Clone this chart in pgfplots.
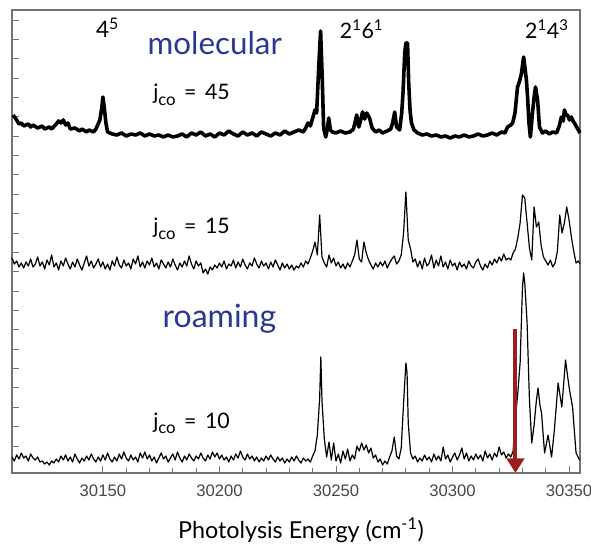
\documentclass[border=0pt]{standalone}
\usepackage{pgfplots}
\pgfplotsset{compat=1.18}
\usetikzlibrary{arrows.meta}
\usepackage{fontspec}
\setmainfont{Lato}
\newfontfamily\tickfont{Liberation Sans}
\definecolor{lblblue}{RGB}{40,56,148}
\definecolor{arrowred}{RGB}{160,28,28}
\definecolor{framegray}{RGB}{115,115,115}
\newcommand{\jco}[1]{j\raisebox{-0.55ex}{\fontsize{12.5}{13}\selectfont co}\hspace{0.4em}=\hspace{0.4em}#1}

\begin{document}
\begin{tikzpicture}
\begin{axis}[name=ax, scale only axis, width=426pt, height=347.25pt,
  xmin=30111, xmax=30354.7, ymin=0, ymax=463,
  scaled x ticks=false,
  xtick={30150,30200,30250,30300,30350},
  xticklabels={30150,30200,30250,30300,30350},
  minor x tick num=4,
  ytick={27,46.36,...,455}, yticklabels={},
  xtick pos=bottom, ytick pos=left, tick align=inside,
  major tick length=5pt, minor tick length=4pt,
  axis line style={framegray, line width=0.8pt},
  tick style={framegray, line width=0.7pt},
  xticklabel style={font=\tickfont\fontsize{12.5}{14}\selectfont, text=black!72, yshift=-5pt},
  clip=false]

% j_CO = 45 (molecular)
\addplot[black, line width=2.7pt, line join=round] coordinates {
(30111.5,358)(30113,353)(30114,349)(30115,350)(30116,347)(30118,349)(30119,346)(30120,348)
(30122,345)(30124,347)(30125,344)(30127,346)(30128,344)(30130,349)(30131,352)(30132,350)
(30133,353)(30134,348)(30135,350)(30136,344)(30138,345)(30140,342)(30141,344)(30143,341)
(30144,343)(30146,341)(30147,344)(30148.7,353)(30149.5,365)(30150,376)(30150.6,365)(30151.3,350)
(30152,341)(30154,339)(30156,338)(30158,340)(30160,337)(30162,339)(30164,338)(30166,340)
(30168,337)(30170,339)(30172,337)(30174,338)(30176,336)(30178,338)(30180,336)(30182,337)
(30184,339)(30186,336)(30188,340)(30190,338)(30192,341)(30194,337)(30196,339)(30198,336)
(30200,340)(30202,338)(30204,342)(30206,339)(30208,337)(30210,341)(30212,338)(30214,340)
(30216,337)(30218,341)(30220,339)(30222,337)(30224,340)(30226,338)(30228,342)(30230,339)
(30232,341)(30234,343)(30236,341)(30237,345)(30238,350)(30239,347)(30240,355)(30241,363)
(30241.7,360)(30242.6,406)(30243.4,442)(30244.1,395)(30244.7,345)(30245.6,336)(30246.3,344)(30246.9,355)
(30247.6,343)(30248.5,341)(30250,340)(30252,342)(30254,340)(30256,341)(30257.5,344)(30258.9,358)
(30259.8,346)(30260.5,352)(30261.4,361)(30262.3,354)(30263.2,360)(30264.4,355)(30265.5,345)(30267,341)
(30268.5,343)(30270,340)(30272,342)(30273.5,344)(30274.3,350)(30275.2,361)(30276,346)(30277.3,343)
(30278.2,360)(30278.8,382)(30279.5,420)(30280,430)(30280.7,430)(30281.2,390)(30281.8,362)(30282.4,350)
(30283.5,343)(30285,340)(30287,338)(30289,339)(30291,337)(30293,338)(30295,336)(30297,337)
(30299,335)(30301,337)(30303,336)(30305,338)(30307,336)(30309,337)(30311,339)(30313,337)
(30315,338)(30317,340)(30319,338)(30321,341)(30322.5,340)(30323.6,346)(30325,348)(30325.8,350)
(30326.8,360)(30327.9,386)(30328.8,392)(30329.6,400)(30330.5,416)(30331.1,405)(30331.7,393)(30332.2,376)
(30332.8,350)(30333.4,336)(30334.3,360)(30335,376)(30335.6,386)(30336.5,373)(30337.3,346)(30338.6,340)
(30340,342)(30341.5,339)(30343,341)(30344.6,340)(30345.8,347)(30346.7,356)(30347.5,352)(30348,363)
(30348.7,358)(30349.3,358)(30350.2,353)(30351,356)(30351.7,352)(30352.3,350)(30353.5,345)(30354.7,340)
};

% j_CO = 15
\addplot[black, line width=0.9pt, line join=round] coordinates {
(30111,215)(30112,209)(30113,212)(30114,206)(30115,210)(30116,205)(30117,211)(30118,207)(30119,214)(30120,206)
(30121,209)(30122,216)(30123,207)(30124,211)(30125,204)(30126,213)(30127,208)(30128,218)(30129,206)(30130,210)
(30131,203)(30132,212)(30133,207)(30134,215)(30135,209)(30136,204)(30137,211)(30138,206)(30139,214)(30140,208)
(30141,203)(30142,210)(30143,217)(30144,207)(30145,212)(30146,205)(30147,209)(30148,214)(30149,206)(30150,211)
(30151,204)(30152,209)(30153,203)(30154,212)(30155,207)(30156,216)(30157,208)(30158,205)(30159,213)(30160,207)
(30161,210)(30162,204)(30163,214)(30164,209)(30165,217)(30166,206)(30167,211)(30168,205)(30169,212)(30170,208)
(30171,215)(30172,206)(30173,210)(30174,204)(30175,213)(30176,209)(30177,205)(30178,211)(30179,206)(30180,214)
(30181,208)(30182,203)(30183,210)(30184,206)(30185,212)(30186,207)(30187,217)(30188,209)(30189,204)(30190,212)
(30191,207)(30192,210)(30193,200)(30194,204)(30195,199)(30196,206)(30197,203)(30198,208)(30199,205)(30200,210)
(30201,206)(30202,212)(30203,204)(30204,209)(30205,207)(30206,213)(30207,205)(30208,211)(30209,206)(30210,214)
(30211,208)(30212,204)(30213,210)(30214,207)(30215,215)(30216,209)(30217,205)(30218,212)(30219,207)(30220,210)
(30221,204)(30222,211)(30223,206)(30224,213)(30225,208)(30226,203)(30227,210)(30228,205)(30229,209)(30230,204)
(30231,208)(30232,203)(30233,207)(30234,205)(30235,210)(30236,206)(30237,212)(30238,209)(30239,215)(30240,222)
(30241,231)(30242,218)(30243,258)(30244,216)(30245,210)(30246,206)(30247,218)(30248,210)(30249,215)(30250,207)
(30251,211)(30252,205)(30253,209)(30254,204)(30255,210)(30256,206)(30257,212)(30258,218)(30259,233)(30260,214)
(30261,211)(30262,231)(30263,220)(30264,213)(30265,208)(30266,204)(30267,210)(30268,206)(30269,211)(30270,207)
(30271,212)(30272,205)(30273,210)(30274,214)(30275,217)(30276,209)(30277,212)(30278,218)(30279,240)(30280,281)
(30281,233)(30282,224)(30283,211)(30284,214)(30285,206)(30286,212)(30287,204)(30288,215)(30289,207)(30290,210)
(30291,218)(30292,205)(30293,213)(30294,207)(30295,217)(30296,206)(30297,211)(30298,204)(30299,213)(30300,207)
(30301,210)(30302,203)(30303,211)(30304,206)(30305,209)(30306,204)(30307,212)(30308,207)(30309,205)(30310,211)
(30311,214)(30312,207)(30313,203)(30314,209)(30315,205)(30316,212)(30317,208)(30318,214)(30319,210)(30320,216)
(30321,212)(30322,219)(30323,213)(30324,215)(30325,213)(30326,220)(30327,224)(30328,235)(30329,250)(30330,278)
(30331,275)(30332,250)(30333,225)(30334,213)(30335,266)(30336,246)(30337,251)(30338,228)(30339,216)(30340,212)
(30341,208)(30342,213)(30343,206)(30344,210)(30345,222)(30346,258)(30347,240)(30348,250)(30349,266)(30350,253)
(30351,236)(30352,222)(30353,210)(30354,212)(30354.7,209)
};

% j_CO = 10 (roaming)
\addplot[black, line width=0.9pt, line join=round] coordinates {
(30111,16)(30112,12)(30113,18)(30114,14)(30115,20)(30116,15)(30117,17)(30118,12)(30119,19)(30120,15)
(30121,13)(30122,16)(30123,11)(30124,12)(30125,9)(30126,11)(30127,8)(30128,12)(30129,10)(30130,14)
(30131,11)(30132,17)(30133,13)(30134,18)(30135,12)(30136,16)(30137,11)(30138,19)(30139,14)(30140,10)
(30141,15)(30142,12)(30143,17)(30144,13)(30145,19)(30146,14)(30147,11)(30148,16)(30149,12)(30150,18)
(30151,13)(30152,20)(30153,14)(30154,11)(30155,16)(30156,12)(30157,19)(30158,14)(30159,21)(30160,15)
(30161,12)(30162,18)(30163,13)(30164,16)(30165,11)(30166,20)(30167,15)(30168,21)(30169,14)(30170,18)
(30171,12)(30172,16)(30173,10)(30174,15)(30175,20)(30176,14)(30177,17)(30178,11)(30179,15)(30180,19)
(30181,13)(30182,21)(30183,15)(30184,11)(30185,17)(30186,13)(30187,19)(30188,15)(30189,12)(30190,17)
(30191,14)(30192,20)(30193,15)(30194,12)(30195,18)(30196,14)(30197,21)(30198,16)(30199,20)(30200,14)
(30201,18)(30202,13)(30203,16)(30204,11)(30205,17)(30206,13)(30207,19)(30208,15)(30209,22)(30210,16)
(30211,13)(30212,19)(30213,14)(30214,17)(30215,12)(30216,16)(30217,11)(30218,15)(30219,12)(30220,17)
(30221,13)(30222,18)(30223,14)(30224,11)(30225,16)(30226,12)(30227,15)(30228,10)(30229,14)(30230,11)
(30231,16)(30232,12)(30233,17)(30234,13)(30235,10)(30236,15)(30237,12)(30238,14)(30239,11)(30240,17)
(30241,22)(30242,38)(30243,75)(30243.5,116)(30244,72)(30245,34)(30246,16)(30247,31)(30248,13)(30249,30)
(30250,12)(30251,19)(30252,10)(30253,22)(30254,14)(30255,24)(30256,12)(30257,18)(30258,14)(30259,27)
(30260,22)(30261,30)(30262,23)(30263,28)(30264,20)(30265,25)(30266,15)(30267,18)(30268,11)(30269,14)
(30270,8)(30271,12)(30272,9)(30273,16)(30274,22)(30275,36)(30276,17)(30277,14)(30278,25)(30279,70)
(30280,110)(30280.5,100)(30281,50)(30282,20)(30283,14)(30284,17)(30285,11)(30286,15)(30287,12)(30288,18)
(30289,13)(30290,16)(30291,11)(30292,19)(30293,13)(30294,17)(30295,12)(30296,26)(30297,14)(30298,18)
(30299,11)(30300,16)(30301,20)(30302,13)(30303,18)(30304,25)(30305,14)(30306,20)(30307,12)(30308,17)
(30309,13)(30310,19)(30311,14)(30312,18)(30313,12)(30314,22)(30315,15)(30316,19)(30317,13)(30318,20)
(30319,16)(30320,26)(30321,18)(30322,21)(30323,15)(30324,19)(30325,16)(30326,22)(30327,55)(30328,80)
(30329,110)(30330,185)(30330.5,200)(30331,190)(30332,150)(30333,73)(30334,30)(30335,48)(30336,73)(30336.7,85)
(30337.5,68)(30338.2,60)(30339,35)(30339.5,20)(30341,38)(30342.5,16)(30343.7,43)(30345.3,90)(30346.9,66)(30348.5,113)
(30349.3,98)(30350.2,83)(30351.5,66)(30353,20)(30354.5,13)
};

% labels
\node[anchor=base, font=\fontsize{17}{19}\selectfont] at (axis cs:30152,435) {4\textsuperscript{5}};
\node[anchor=base, font=\fontsize{16}{18}\selectfont] at (axis cs:30261,434) {2\textsuperscript{1}6\textsuperscript{1}};
\node[anchor=base, font=\fontsize{16}{18}\selectfont] at (axis cs:30340.5,434) {2\textsuperscript{1}4\textsuperscript{3}};
\node[anchor=base, font=\fontsize{23.5}{26}\selectfont, text=lblblue] at (axis cs:30198,418) {molecular};
\node[anchor=base, font=\fontsize{24}{26}\selectfont, text=lblblue] at (axis cs:30200,145) {roaming};
\node[anchor=base west, inner sep=0pt, font=\fontsize{16}{18}\selectfont] at (axis cs:30171.5,373) {\jco{45}};
\node[anchor=base west, inner sep=0pt, font=\fontsize{16}{18}\selectfont] at (axis cs:30171.5,239) {\jco{15}};
\node[anchor=base west, inner sep=0pt, font=\fontsize{16}{18}\selectfont] at (axis cs:30171.5,45) {\jco{10}};

% arrow
\draw[arrowred, line width=3pt, -{Triangle[width=13pt,length=11pt]}] (axis cs:30327,144) -- (axis cs:30327,0);
\end{axis}
\node[anchor=base, font=\fontsize{17.5}{20}\selectfont] at ([xshift=3.75pt,yshift=-48.75pt]ax.south) {Photolysis Energy (cm\textsuperscript{-1})};
\pgfresetboundingbox
\path ([xshift=-9pt,yshift=-54pt]ax.south west) rectangle ([xshift=8.25pt,yshift=7.5pt]ax.north east);
\end{tikzpicture}
\end{document}
